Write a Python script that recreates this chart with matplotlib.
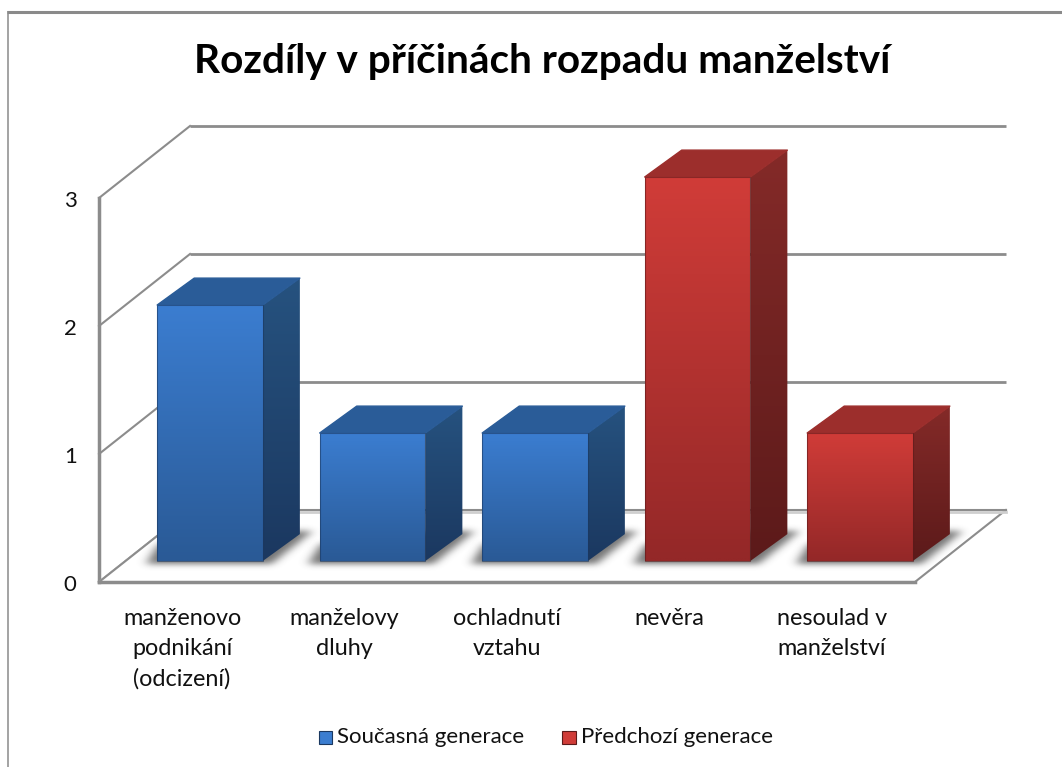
import numpy as np
import matplotlib
matplotlib.use("Agg")
import matplotlib.pyplot as plt
from matplotlib.patches import Polygon, Patch
from matplotlib.path import Path
from matplotlib.legend_handler import HandlerPatch

plt.rcParams['font.family'] = ['Lato', 'DejaVu Sans']

title = "Rozdíly v příčinách rozpadu manželství"
categories = ["manženovo\npodnikání\n(odcizení)", "manželovy\ndluhy", "ochladnutí\nvztahu", "nevěra", "nesoulad v\nmanželství"]
values = [2, 1, 1, 3, 1]
series = [0, 0, 0, 1, 1]
series_names = ["Současná generace", "Předchozí generace"]
yticks = [0, 1, 2, 3]

# colours for each series: front top/bottom, side top/bottom, roof
front_cols = [("#3b7dd0", "#2a5a96"), ("#d03c38", "#942828")]
side_cols = [("#26527f", "#1b3860"), ("#842a28", "#5c1a1a")]
roof_cols = ["#2a5c98", "#9c2e2c"]

W, H = 1062, 767
UX, UY = 162.5, 128.0
bar_w = 0.65
dx, dy = 0.228, 0.21      # depth of a bar
wx, wy = 0.56, 0.5625     # depth of the floor
x0, x1 = -0.683, 4.338    # front edge of the floor
y0 = -0.164

fig = plt.figure(figsize=(W / 100, H / 100), dpi=100)
ax = fig.add_axes([0, 0, 1, 1])
ax.axis("off")


def gradient(poly_xy, c1, c2, zorder):
    pts = np.array(poly_xy)
    poly = Polygon(pts, closed=True, fc="none", ec="none", transform=ax.transData)
    ax.add_patch(poly)
    c1 = np.array(matplotlib.colors.to_rgb(c1))
    c2 = np.array(matplotlib.colors.to_rgb(c2))
    t = np.linspace(0, 1, 64)[:, None]
    img = (c1 * (1 - t) + c2 * t)[:, None, :]
    im = ax.imshow(img, extent=[pts[:, 0].min(), pts[:, 0].max(), pts[:, 1].min(), pts[:, 1].max()],
                   aspect="auto", origin="upper", zorder=zorder, interpolation="bilinear")
    im.set_clip_path(poly)


def blur(a, n):
    kernel = np.exp(-0.5 * (np.arange(-3 * n, 3 * n + 1) / n) ** 2)
    kernel = kernel / kernel.sum()
    a = np.apply_along_axis(lambda r: np.convolve(r, kernel, mode="same"), 0, a)
    return np.apply_along_axis(lambda r: np.convolve(r, kernel, mode="same"), 1, a)


def shadow(l, r):
    # blurred grey shape lying on the floor behind a bar
    shape = [(l - 0.075, -0.025), (r + 0.05, -0.025), (r + dx + 0.08, dy + 0.025), (r + 0.05, dy + 0.025),
             (l, 0.13)]
    xs = np.linspace(l - 0.25, r + dx + 0.25, 140)
    ys = np.linspace(0.45, -0.2, 84)
    gx, gy = np.meshgrid(xs, ys)
    mask = Path(shape).contains_points(np.c_[gx.ravel(), gy.ravel()]).reshape(gx.shape)
    alpha = blur(mask.astype(float), 3) * 0.72
    rgba = np.zeros(gx.shape + (4,))
    rgba[..., :3] = 0.25
    rgba[..., 3] = alpha
    ax.imshow(rgba, extent=[xs[0], xs[-1], ys[-1], ys[0]], aspect="auto", origin="upper", zorder=2,
              interpolation="bilinear")


# walls and floor
grid = "#8c8c8c"
for v in yticks:
    ax.plot([x0 + wx, x0 + wx + (x1 - x0)], [v + y0 + wy, v + y0 + wy], color=grid, lw=2, zorder=1,
            solid_capstyle="butt")
    ax.plot([x0, x0 + wx], [v + y0, v + y0 + wy], color=grid, lw=1.5, zorder=1)
ax.plot([x0, x0], [y0, yticks[-1] + y0], color=grid, lw=2.5, zorder=1)
ax.fill([x0, x1, x1 + wx, x0 + wx], [y0, y0, y0 + wy, y0 + wy], color="white", zorder=1.5)
ax.plot([x1, x1 + wx], [y0, y0 + wy], color=grid, lw=1.5, zorder=1.6)
ax.plot([x0, x0 + wx], [y0, y0 + wy], color=grid, lw=1.5, zorder=1.6)
ax.plot([x0, x1], [y0, y0], color=grid, lw=2.5, zorder=1.6)
ax.plot([x0 + wx, x0 + wx + (x1 - x0)], [y0 + wy, y0 + wy], color="#8c8c8c", lw=1.5, zorder=1.6)
ax.plot([x0 + wx, x0 + wx + (x1 - x0)], [y0 + wy - 0.012, y0 + wy - 0.012], color="#cfcfcf", lw=2, zorder=1.6)

for i, (v, s) in enumerate(zip(values, series)):
    l, r = i - bar_w / 2, i + bar_w / 2
    shadow(l, r)
    # side, roof, front
    side = [(r, 0), (r + dx, dy), (r + dx, v + dy), (r, v)]
    gradient(side, side_cols[s][0], side_cols[s][1], 3)
    roof = [(l, v), (r, v), (r + dx, v + dy), (l + dx, v + dy)]
    ax.add_patch(Polygon(roof, closed=True, fc=roof_cols[s], ec=roof_cols[s], lw=1, joinstyle="round", zorder=3))
    front = [(l, 0), (r, 0), (r, v), (l, v)]
    gradient(front, front_cols[s][0], front_cols[s][1], 4)
    ax.add_patch(Polygon(front, closed=True, fc="none", ec=side_cols[s][1], lw=0.8, alpha=0.6, zorder=4.1))

for v in yticks:
    ax.text(-0.86, v + y0 - 0.022, str(v), ha="center", va="center", fontsize=16, color="#111111", zorder=5)

for i, c in enumerate(categories):
    ax.text(i - 0.172, -0.365, c, ha="center", va="top", fontsize=16.8, color="#111111",
            linespacing=1.52, zorder=5)

ax.text(2.045, 3.905, title, ha="center", va="center", fontsize=29.2, fontweight="bold", color="black", zorder=5)


class GradHandler(HandlerPatch):
    def create_artists(self, legend, orig, xd, yd, w, h, fontsize, trans):
        p = Polygon([[0, -1], [w, -1], [w, w - 1], [0, w - 1]], closed=True,
                    fc=orig.get_facecolor(), ec=orig.get_edgecolor(), lw=0.8, transform=trans)
        return [p]


handles = [Patch(fc=front_cols[k][0], ec=side_cols[k][1]) for k in range(2)]
leg = ax.legend(handles, series_names, loc="center", bbox_to_anchor=(0.514, 0.039), ncol=2, frameon=False,
                fontsize=16, handlelength=0.6, handletextpad=0.25, columnspacing=1.7,
                handler_map={Patch: GradHandler()}, labelcolor="#111111")
leg.set_zorder(6)

ax.set_xlim(-210 / UX, (W - 210) / UX)
ax.set_ylim(-(H - 561) / UY, 561 / UY)

# frame of the chart area, cut off at the right and bottom
frame = "#8a8a8a"
ax.plot([7.5 / W, 7.5 / W], [0, 1 - 11 / H], color=frame, lw=1.1, transform=ax.transAxes, zorder=7,
        solid_capstyle="butt")
ax.plot([7 / W, 1], [1 - 11.5 / H, 1 - 11.5 / H], color=frame, lw=2.2, transform=ax.transAxes, zorder=7,
        solid_capstyle="butt")

fig.savefig("out.png", dpi=100, facecolor="white")
